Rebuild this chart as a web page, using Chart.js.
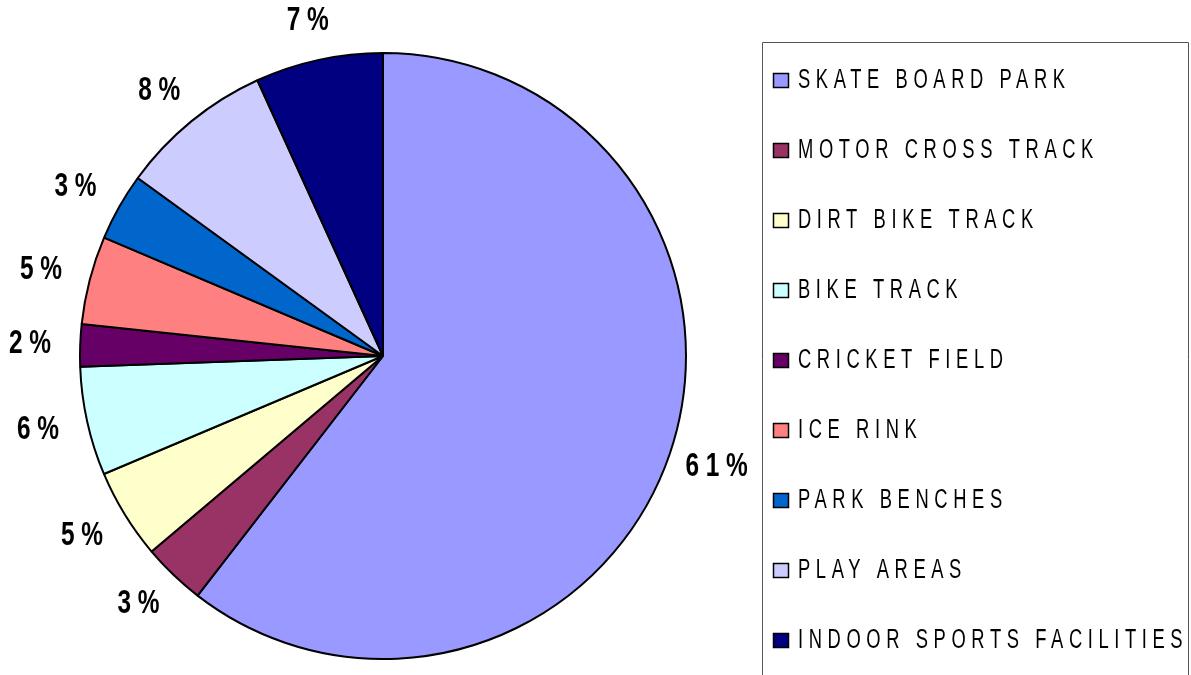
<!DOCTYPE html>
<html>
<head>
<meta charset="utf-8">
<script src="https://cdn.jsdelivr.net/npm/chart.js@4.4.1/dist/chart.umd.min.js"></script>
<style>
  html, body { margin: 0; padding: 0; background: #fff; }
  #wrap { width: 1191px; height: 675px; position: relative; }
</style>
</head>
<body>
<div id="wrap"><canvas id="pieChart"></canvas></div>
<script>
const categories = [
    'SKATE BOARD PARK', 'MOTOR CROSS TRACK', 'DIRT BIKE TRACK', 'BIKE TRACK',
    'CRICKET FIELD', 'ICE RINK', 'PARK BENCHES', 'PLAY AREAS', 'INDOOR SPORTS FACILITIES'
];
// slice sizes (percent)
const shares = [60.45, 3.35, 4.8, 5.8, 2.25, 4.7, 3.6, 8.2, 6.8];
// percentage labels as printed next to the slices
const shareLabels = ['61%', '3%', '5%', '6%', '2%', '5%', '3%', '8%', '7%'];
const sliceColors = [
    '#9999FF', '#993366', '#FFFFCC', '#CCFFFF', '#660066',
    '#FF8080', '#0066CC', '#CCCCFF', '#000080'
];

// percentage labels outside the pie
const outsideLabels = {
    id: 'outsideLabels',
    afterDatasetsDraw(chart) {
        const ctx = chart.ctx;
        const meta = chart.getDatasetMeta(0);
        meta.data.forEach((arc, i) => {
            const p = arc.getProps(['x', 'y', 'startAngle', 'endAngle', 'outerRadius'], true);
            const mid = (p.startAngle + p.endAngle) / 2;
            const px = p.x + Math.cos(mid) * (p.outerRadius + 50);
            const py = p.y + Math.sin(mid) * (p.outerRadius + 40);
            ctx.save();
            ctx.translate(px + 3, py);
            ctx.scale(0.74, 1);
            ctx.font = 'bold 33px "Liberation Sans", Arial, sans-serif';
            ctx.letterSpacing = '9px';
            ctx.fillStyle = '#000';
            ctx.textAlign = 'center';
            ctx.textBaseline = 'middle';
            ctx.fillText(shareLabels[i], 0, 0);
            ctx.restore();
        });
    }
};

// boxed legend on the right
const boxedLegend = {
    id: 'boxedLegend',
    afterDraw(chart) {
        const ctx = chart.ctx;
        const left = chart.chartArea.right - 4;
        const right = chart.width - 3;
        const top = 42;
        ctx.save();
        ctx.strokeStyle = '#555';
        ctx.lineWidth = 1;
        ctx.beginPath();
        ctx.moveTo(left + 0.5, chart.height + 2);
        ctx.lineTo(left + 0.5, top + 0.5);
        ctx.lineTo(right + 0.5, top + 0.5);
        ctx.lineTo(right + 0.5, chart.height + 2);
        ctx.stroke();

        const colors = chart.data.datasets[0].backgroundColor;
        chart.data.labels.forEach((label, i) => {
            const baseline = 88 + i * 70;
            ctx.fillStyle = colors[i];
            ctx.fillRect(left + 11.5, baseline - 14.5, 15, 14);
            ctx.strokeStyle = '#000';
            ctx.lineWidth = 1.5;
            ctx.strokeRect(left + 11.5, baseline - 14.5, 15, 14);

            ctx.save();
            ctx.translate(left + 36, baseline);
            ctx.scale(0.68, 1);
            ctx.font = '27px "Liberation Sans", Arial, sans-serif';
            ctx.letterSpacing = (5.6 / 0.68).toFixed(2) + 'px';
            ctx.fillStyle = '#000';
            ctx.textAlign = 'left';
            ctx.textBaseline = 'alphabetic';
            ctx.fillText(label, 0, 0);
            ctx.restore();
        });
        ctx.restore();
    }
};

const ctx = document.getElementById('pieChart').getContext('2d');
new Chart(ctx, {
    type: 'pie',
    data: {
        labels: categories,
        datasets: [{
            data: shares,
            backgroundColor: sliceColors,
            borderColor: '#000',
            borderWidth: 2
        }]
    },
    options: {
        responsive: true,
        maintainAspectRatio: false,
        animation: false,
        events: [],
        radius: 303,
        layout: { padding: { left: 0, right: 425, top: 52, bottom: 15 } },
        plugins: {
            legend: { display: false },
            tooltip: { enabled: false }
        }
    },
    plugins: [outsideLabels, boxedLegend]
});
</script>
</body>
</html>
